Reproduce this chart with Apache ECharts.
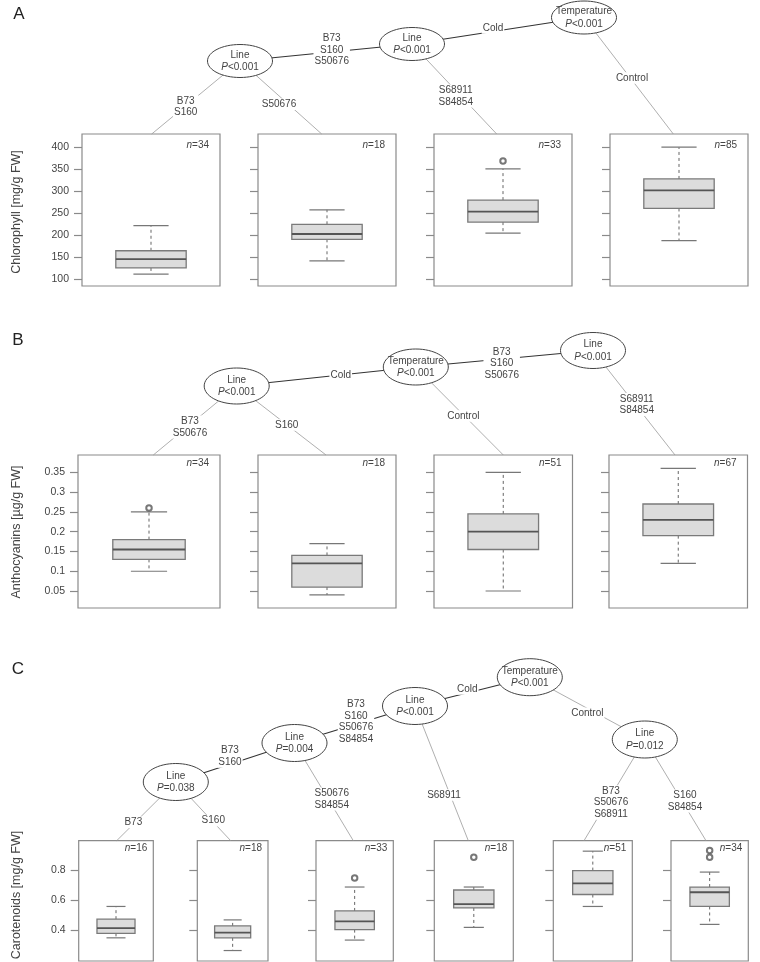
<!DOCTYPE html>
<html><head><meta charset="utf-8">
<script src="https://cdn.jsdelivr.net/npm/echarts@6/dist/echarts.min.js"></script>
<style>html,body{margin:0;padding:0;background:#fff}#c{width:760px;height:962px}</style>
</head><body><div id="c"></div>
<script>
// ---------------- data ----------------
// A: Chlorophyll
const chlN = [34, 18, 33, 85];
const chlBox = [   // [min, Q1, median, Q3, max]
  [112, 126, 146, 165, 222],
  [142, 191, 203, 225, 258],
  [205, 230, 254, 280, 351],
  [188, 261, 302, 328, 400]
];
const chlOut = [[], [], [369], []];
const chlTicks = [100, 150, 200, 250, 300, 350, 400];

// B: Anthocyanins
const antN = [34, 18, 51, 67];
const antBox = [
  [0.10, 0.13, 0.155, 0.18, 0.25],
  [0.04, 0.06, 0.12, 0.14, 0.17],
  [0.05, 0.155, 0.20, 0.245, 0.35],
  [0.12, 0.19, 0.23, 0.27, 0.36]
];
const antOut = [[0.26], [], [], []];
const antTicks = [0.05, 0.1, 0.15, 0.2, 0.25, 0.3, 0.35];

// C: Carotenoids
const carN = [16, 18, 33, 18, 51, 34];
const carBox = [
  [0.35, 0.38, 0.415, 0.475, 0.56],
  [0.265, 0.35, 0.385, 0.43, 0.47],
  [0.335, 0.405, 0.46, 0.53, 0.69],
  [0.42, 0.55, 0.575, 0.67, 0.69],
  [0.56, 0.64, 0.715, 0.80, 0.93],
  [0.44, 0.56, 0.655, 0.69, 0.79]
];
const carOut = [[], [], [0.75], [0.89], [], [0.935, 0.89]];
const carTicks = [0.4, 0.6, 0.8];

// tree texts
const treeA = {
  nodes: [
    {id: 'T', v: 'Temperature', p: '<0.001'},
    {id: 'L2', v: 'Line', p: '<0.001'},
    {id: 'L1', v: 'Line', p: '<0.001'}
  ],
  edges: [
    {from: 'T', to: 'L2', label: 'Cold'},
    {from: 'T', leaf: 3, label: 'Control'},
    {from: 'L2', to: 'L1', label: 'B73\nS160\nS50676'},
    {from: 'L2', leaf: 2, label: 'S68911\nS84854'},
    {from: 'L1', leaf: 0, label: 'B73\nS160'},
    {from: 'L1', leaf: 1, label: 'S50676'}
  ]
};
const treeB = {
  nodes: [
    {id: 'L1', v: 'Line', p: '<0.001'},
    {id: 'T', v: 'Temperature', p: '<0.001'},
    {id: 'L2', v: 'Line', p: '<0.001'}
  ],
  edges: [
    {from: 'T', to: 'L1', label: 'Cold'},
    {from: 'T', to: 'L2', label: 'B73\nS160\nS50676'},
    {from: 'T', leaf: 2, label: 'Control'},
    {from: 'L2', leaf: 3, label: 'S68911\nS84854'},
    {from: 'L1', leaf: 0, label: 'B73\nS50676'},
    {from: 'L1', leaf: 1, label: 'S160'}
  ]
};
const treeC = {
  nodes: [
    {id: 'L038', v: 'Line', p: '=0.038'},
    {id: 'L004', v: 'Line', p: '=0.004'},
    {id: 'L001', v: 'Line', p: '<0.001'},
    {id: 'T', v: 'Temperature', p: '<0.001'},
    {id: 'L012', v: 'Line', p: '=0.012'}
  ],
  edges: [
    {from: 'T', to: 'L001', label: 'Cold'},
    {from: 'T', to: 'L012', label: 'Control'},
    {from: 'L001', to: 'L004', label: 'B73\nS160\nS50676\nS84854'},
    {from: 'L001', leaf: 3, label: 'S68911'},
    {from: 'L004', to: 'L038', label: 'B73\nS160'},
    {from: 'L004', leaf: 2, label: 'S50676\nS84854'},
    {from: 'L038', leaf: 0, label: 'B73'},
    {from: 'L038', leaf: 1, label: 'S160'},
    {from: 'L012', leaf: 4, label: 'B73\nS50676\nS68911'},
    {from: 'L012', leaf: 5, label: 'S160\nS84854'}
  ]
};

// ---------------- layout (positions & styles) ----------------
const FONT = '"Liberation Sans", Arial, Helvetica, sans-serif';
const TXT = '#444';
const FRAME = '#8a8a8a';

const rows = [
  {letter: 'A', lpos: [19, 14], name: 'Chlorophyll [mg/g FW]', namePos: [17, 212], n: chlN, box: chlBox, out: chlOut, ticks: chlTicks,
   min: 85, max: 430, top: 134, bottom: 286,
   lefts: [82, 258, 434, 610], rights: [220, 396, 572, 748], nInset: 11, nDy: 11.5,
   tree: treeA, ry: 16.5,
   nodePos: {T: [584, 17.5], L2: [412, 44], L1: [240, 61]},
   leafX: [151.7, 321.7, 496.7, 673.3],
   labelPos: [[493, 28], [632, 78], [331.7, 50], [455.7, 96], [185.7, 106.5], [279, 104.3]],
   dark: [true, false, true, false, false, false]},
  {letter: 'B', lpos: [18, 340], name: 'Anthocyanins [µg/g FW]', namePos: [17, 532], n: antN, box: antBox, out: antOut, ticks: antTicks,
   min: 0.007, max: 0.394, top: 455, bottom: 608,
   lefts: [78, 258, 434, 609], rights: [220, 396, 572.5, 747.5], nInset: 11, nDy: 8.5,
   tree: treeB, ry: 18,
   nodePos: {L1: [236.7, 386], T: [415.8, 367], L2: [593, 350.5]},
   leafX: [153.3, 326, 503.3, 675],
   labelPos: [[340.7, 375.3], [501.7, 363.5], [463.3, 416], [636.7, 404.5], [190, 427], [286.7, 425]],
   dark: [true, true, false, false, false, false]},
  {letter: 'C', lpos: [18, 669], name: 'Carotenoids [mg/g FW]', namePos: [17, 895], n: carN, box: carBox, out: carOut, ticks: carTicks,
   min: 0.195, max: 1.0, top: 840.7, bottom: 961,
   lefts: [78.7, 197.3, 316, 434.3, 553.3, 671], rights: [153.3, 268, 393.3, 513.3, 632.3, 748.3], nInset: 6, nDy: 8,
   tree: treeC, ry: 18.5,
   nodePos: {L038: [175.8, 782], L004: [294.5, 743], L001: [415, 706], T: [529.8, 677.2], L012: [644.8, 739.5]},
   leafX: [116.7, 230.7, 353.3, 468.3, 584, 706],
   labelPos: [[467.3, 689], [587.3, 713.3], [356, 721.7], [444, 795], [230, 756.3], [331.7, 799], [133.3, 822.3], [213.3, 820.7], [611, 802.5], [685, 801]],
   dark: [true, false, true, false, true, false, false, false, false, false]}
];

// ---------------- build options ----------------
const grids = [], xAxes = [], yAxes = [], series = [], graphics = [];

function renderBox(params, api) {
  const x = api.value(0);
  const pMin = api.coord([x, api.value(1)]);
  const pQ1 = api.coord([x, api.value(2)]);
  const pMed = api.coord([x, api.value(3)]);
  const pQ3 = api.coord([x, api.value(4)]);
  const pMax = api.coord([x, api.value(5)]);
  const band = api.size([1, 0])[0];
  const hw = band * 0.255;
  const cw = hw * 0.5;
  const cx = pMed[0];
  const wl = {stroke: '#666', lineWidth: 1, lineDash: [3, 3]};
  const cap = {stroke: '#777', lineWidth: 1.2};
  return {
    type: 'group',
    children: [
      {type: 'line', shape: {x1: cx, y1: pQ3[1], x2: cx, y2: pMax[1]}, style: wl},
      {type: 'line', shape: {x1: cx, y1: pQ1[1], x2: cx, y2: pMin[1]}, style: wl},
      {type: 'line', shape: {x1: cx - cw, y1: pMax[1], x2: cx + cw, y2: pMax[1]}, style: cap},
      {type: 'line', shape: {x1: cx - cw, y1: pMin[1], x2: cx + cw, y2: pMin[1]}, style: cap},
      {type: 'rect', shape: {x: cx - hw, y: pQ3[1], width: 2 * hw, height: pQ1[1] - pQ3[1]},
       style: {fill: '#dcdcdc', stroke: '#7a7a7a', lineWidth: 1.3}},
      {type: 'line', shape: {x1: cx - hw, y1: pMed[1], x2: cx + hw, y2: pMed[1]},
       style: {stroke: '#555', lineWidth: 1.8}}
    ]
  };
}

let gi = 0;
rows.forEach((r) => {
  r.box.forEach((b, j) => {
    const left = r.lefts[j], right = r.rights[j];
    grids.push({left: left, top: r.top, width: right - left, height: r.bottom - r.top,
      show: true, borderColor: FRAME, borderWidth: 1.2, backgroundColor: 'transparent'});
    xAxes.push({gridIndex: gi, type: 'category', data: ['node'], show: false});
    yAxes.push({
      gridIndex: gi, type: 'value', min: r.min, max: r.max,
      axisLine: {show: false}, splitLine: {show: false},
      axisTick: {show: true, length: 8, customValues: r.ticks, lineStyle: {color: FRAME, width: 1.2}},
      axisLabel: {show: j === 0, customValues: r.ticks, margin: 13, fontSize: 10.5, color: TXT, fontFamily: FONT,
        showMinLabel: true, showMaxLabel: true}
    });
    series.push({type: 'custom', xAxisIndex: gi, yAxisIndex: gi, renderItem: renderBox,
      encode: {x: 0, y: [1, 2, 3, 4, 5]}, data: [[0].concat(b)], silent: true, z: 3});
    if (r.out[j].length) {
      series.push({type: 'scatter', xAxisIndex: gi, yAxisIndex: gi, symbol: 'emptyCircle', symbolSize: 5.5,
        itemStyle: {color: '#555', borderWidth: 1}, data: r.out[j].map(v => [0, v]), silent: true, z: 4});
    }
    graphics.push({type: 'text', x: right - r.nInset, y: r.top + r.nDy, z: 10,
      style: {text: '{i|n}=' + r.n[j], align: 'right', verticalAlign: 'middle', fill: TXT, fontSize: 10, fontFamily: FONT,
        rich: {i: {fontStyle: 'italic', fontSize: 10, fontFamily: FONT, fill: TXT}}}});
    gi++;
  });

  // axis title
  graphics.push({type: 'text', x: r.namePos[0], y: r.namePos[1], rotation: Math.PI / 2, z: 10,
    style: {text: r.name, align: 'center', verticalAlign: 'middle', fontSize: 12.5, fontFamily: FONT, fill: TXT}});

  // panel letter
  graphics.push({type: 'text', x: r.lpos[0], y: r.lpos[1], z: 10,
    style: {text: r.letter, align: 'center', verticalAlign: 'middle', fontSize: 17, fontFamily: FONT, fill: '#222'}});

  // tree
  r.tree.edges.forEach((e, k) => {
    const p = r.nodePos[e.from];
    const q = e.to ? r.nodePos[e.to] : [r.leafX[e.leaf], r.top];
    const dark = r.dark[k];
    graphics.push({type: 'line', z: 5, shape: {x1: p[0], y1: p[1], x2: q[0], y2: q[1]},
      style: {stroke: dark ? '#333' : '#9a9a9a', lineWidth: dark ? 1.1 : 0.8}});
    const lp = r.labelPos[k];
    graphics.push({type: 'text', z: 6, x: lp[0], y: lp[1],
      style: {text: e.label, align: 'center', verticalAlign: 'middle', fontSize: 10, lineHeight: 11.5,
        fontFamily: FONT, fill: TXT, backgroundColor: '#fff', padding: [0, 1]}});
  });
  r.tree.nodes.forEach((nd) => {
    const p = r.nodePos[nd.id];
    graphics.push({type: 'ellipse', z: 7, shape: {cx: p[0], cy: p[1], rx: 32.5, ry: r.ry},
      style: {fill: '#fff', stroke: '#444', lineWidth: 1}});
    graphics.push({type: 'text', z: 8, x: p[0], y: p[1],
      style: {text: nd.v + '\n{i|P}' + nd.p, align: 'center', verticalAlign: 'middle', fontSize: 10, lineHeight: 12.5,
        fontFamily: FONT, fill: TXT, rich: {i: {fontStyle: 'italic', fontSize: 10, fontFamily: FONT, fill: TXT, lineHeight: 12.5}}}});
  });
});

const chart = echarts.init(document.getElementById('c'), null, {renderer: 'canvas'});
chart.setOption({
  animation: false,
  backgroundColor: '#fff',
  grid: grids.map(g => Object.assign({outerBoundsMode: 'none', containLabel: false}, g)),
  xAxis: xAxes,
  yAxis: yAxes,
  series: series,
  graphic: {elements: graphics}
});
</script></body></html>
